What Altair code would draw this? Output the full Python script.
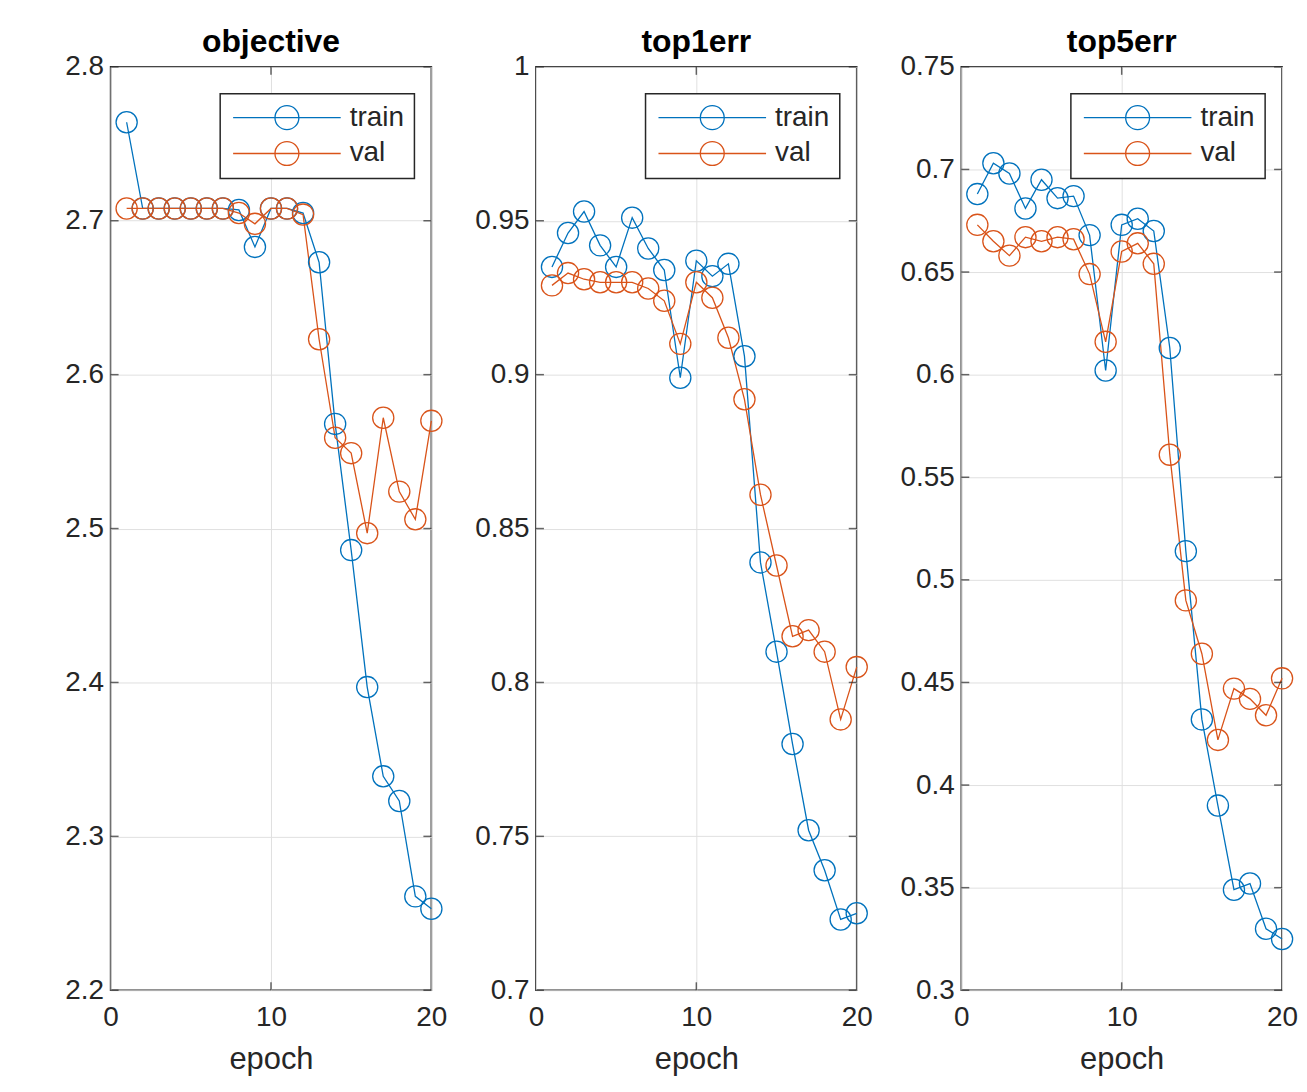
import altair as alt
import pandas as pd

epochs = list(range(1, 21))
series_names = ["train", "val"]

objective_train = [2.764, 2.708, 2.708, 2.708, 2.708, 2.708, 2.708, 2.707, 2.683, 2.708,
                   2.708, 2.705, 2.673, 2.568, 2.486, 2.397, 2.339, 2.323, 2.261, 2.253]
objective_val = [2.708, 2.708, 2.708, 2.708, 2.708, 2.708, 2.708, 2.705, 2.698, 2.708,
                 2.708, 2.704, 2.623, 2.559, 2.549, 2.497, 2.572, 2.524, 2.506, 2.570]
top1_train = [0.935, 0.946, 0.953, 0.942, 0.935, 0.951, 0.941, 0.934, 0.899, 0.937,
              0.932, 0.936, 0.906, 0.839, 0.810, 0.780, 0.752, 0.739, 0.723, 0.725]
top1_val = [0.929, 0.933, 0.931, 0.930, 0.930, 0.930, 0.928, 0.924, 0.910, 0.930,
            0.925, 0.912, 0.892, 0.861, 0.838, 0.815, 0.817, 0.810, 0.788, 0.805]
top5_train = [0.688, 0.703, 0.698, 0.681, 0.695, 0.686, 0.687, 0.668, 0.602, 0.673,
              0.676, 0.670, 0.613, 0.514, 0.432, 0.390, 0.349, 0.352, 0.330, 0.325]
top5_val = [0.673, 0.665, 0.658, 0.667, 0.665, 0.667, 0.666, 0.649, 0.616, 0.660,
            0.664, 0.654, 0.561, 0.490, 0.464, 0.422, 0.447, 0.442, 0.434, 0.452]

x_ticks = [0, 10, 20]
objective_ticks = [2.2, 2.3, 2.4, 2.5, 2.6, 2.7, 2.8]
top1_ticks = [0.7, 0.75, 0.8, 0.85, 0.9, 0.95, 1.0]
top5_ticks = [0.3, 0.35, 0.4, 0.45, 0.5, 0.55, 0.6, 0.65, 0.7, 0.75]

BLUE = "#0072BD"
ORANGE = "#D95319"
AXC = "#262626"
FONT = "Liberation Sans"
W, H = 322, 927

# legend symbol: line through an open circle
SYMBOL = "M-4.5,0L4.5,0M-1,0A1,1,0,1,1,1,0A1,1,0,1,1,-1,0"


def panel(title, train, val, ticks):
    df = pd.DataFrame({
        "epoch": epochs + epochs,
        "value": train + val,
        "series": [series_names[0]] * len(epochs) + [series_names[1]] * len(epochs),
    })
    color = alt.Color(
        "series:N",
        scale=alt.Scale(domain=series_names, range=[BLUE, ORANGE]),
        legend=alt.Legend(
            title=None, orient="none", legendX=110, legendY=27,
            symbolType=SYMBOL, symbolSize=576, symbolStrokeWidth=1.3,
            symbolFillColor="transparent",
            symbolOffset=43, labelOffset=49,
            labelFont=FONT, labelFontSize=28, labelColor=AXC,
            padding=10, rowPadding=6,
            strokeColor=AXC, fillColor="white",
        ),
    )
    xscale = alt.Scale(domain=[0, 20], nice=False)
    yscale = alt.Scale(domain=[ticks[0], ticks[-1]], nice=False, zero=False)
    xaxis = alt.Axis(values=x_ticks, title="epoch", format="d")
    yaxis = alt.Axis(values=ticks, title=None, format=".2~f")

    x = alt.X("epoch:Q", scale=xscale, axis=xaxis)
    y = alt.Y("value:Q", scale=yscale, axis=yaxis)
    base = alt.Chart(df).encode(x=x, y=y, color=color)
    lines = base.mark_line(strokeWidth=1.3)
    pts = base.mark_point(shape="circle", size=452, filled=False, strokeWidth=1.3, opacity=1)

    tdf = pd.DataFrame({"value": ticks})
    xdf = pd.DataFrame({"epoch": x_ticks[1:-1]})
    tick_style = dict(size=8, thickness=1.5, color=AXC)
    yl = alt.Chart(tdf).mark_tick(orient="horizontal", **tick_style).encode(
        y=alt.Y("value:Q", scale=yscale, axis=yaxis), x=alt.value(4))
    yr = alt.Chart(tdf).mark_tick(orient="horizontal", **tick_style).encode(
        y=alt.Y("value:Q", scale=yscale, axis=yaxis), x=alt.value(W - 4))
    xb = alt.Chart(xdf).mark_tick(orient="vertical", **tick_style).encode(
        x=alt.X("epoch:Q", scale=xscale, axis=xaxis), y=alt.value(H - 4))
    xt = alt.Chart(xdf).mark_tick(orient="vertical", **tick_style).encode(
        x=alt.X("epoch:Q", scale=xscale, axis=xaxis), y=alt.value(4))

    return alt.layer(lines, pts, yl, yr, xb, xt).properties(
        width=W, height=H,
        title=alt.TitleParams(text=title, font=FONT, fontSize=32, fontWeight="bold",
                              color="black", offset=-6),
    )


chart = alt.hconcat(
    panel("objective", objective_train, objective_val, objective_ticks),
    panel("top1err", top1_train, top1_val, top1_ticks),
    panel("top5err", top5_train, top5_val, top5_ticks),
    spacing=17,
).resolve_scale(color="independent").resolve_legend(color="independent").properties(
    padding={"left": 32, "top": 15, "right": 0, "bottom": 0},
    background="white",
).configure_view(
    stroke=AXC, strokeWidth=1.6
).configure_axis(
    labelFont=FONT, labelFontSize=28, labelColor=AXC,
    titleFont=FONT, titleFontSize=31, titleColor=AXC, titleFontWeight="normal",
    grid=True, gridColor="#e0e0e0", gridWidth=1,
    domain=False, ticks=False,
).configure_axisY(
    labelPadding=7, minExtent=70, maxExtent=70,
).configure_axisX(
    labelPadding=13, titlePadding=14, labelFlush=False,
).configure_legend(
    strokeWidth=1.5,
)

chart.save("out.html", embed_options={"renderer": "svg", "actions": False})
